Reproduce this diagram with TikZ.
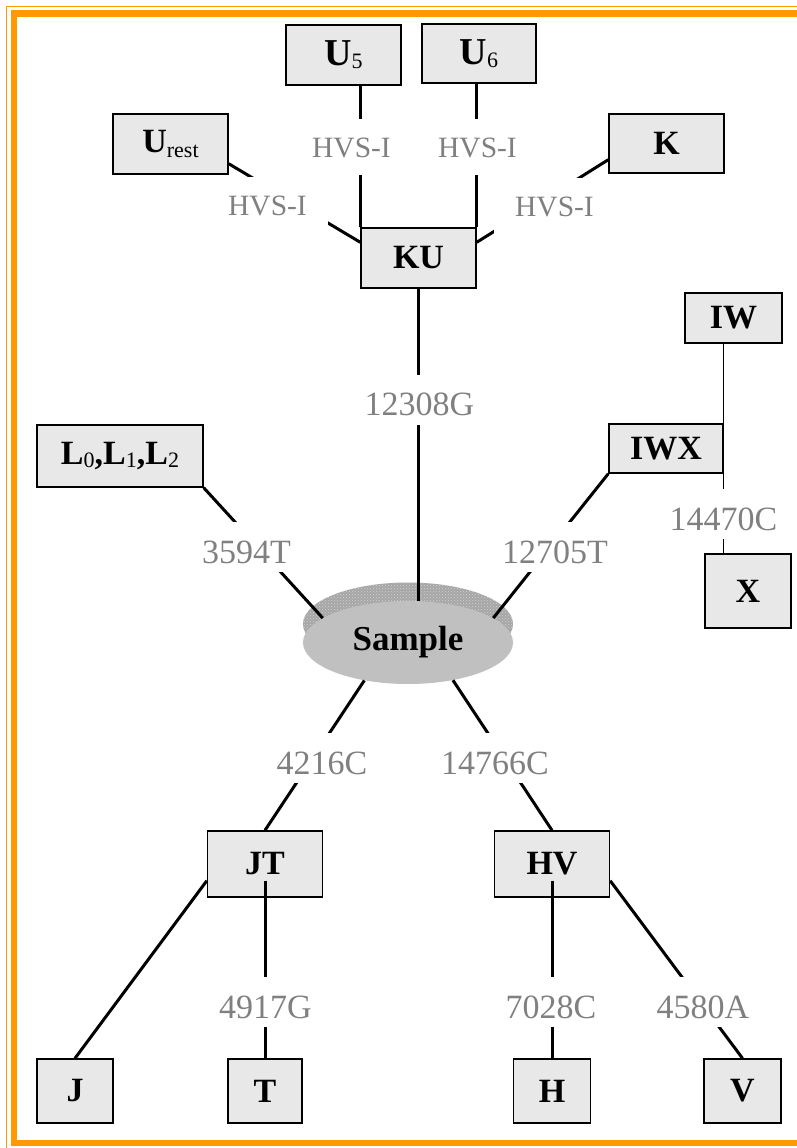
\documentclass[tikz,border=0pt]{standalone}
\usepackage{fontspec}
\setmainfont{Liberation Serif}
\usetikzlibrary{calc,shapes.geometric,patterns}
\definecolor{frameorange}{HTML}{FF9900}
\definecolor{boxfill}{HTML}{E8E8E8}
\definecolor{lblgray}{HTML}{808080}
\definecolor{samplefill}{HTML}{C0C0C0}
\definecolor{shadowfill}{HTML}{A6A6A6}
\definecolor{shadowdots}{HTML}{D4D4D4}
\newcommand{\hsub}[2][3pt]{\raisebox{-#1}{\fontsize{22}{24}\selectfont\mdseries #2}}
\tikzset{
  hap/.style={draw=black, line width=1.4pt, fill=boxfill, inner sep=0pt,
    font=\fontsize{34}{40}\selectfont\bfseries},
  link/.style={line width=3pt},
  thinlink/.style={line width=1.3pt},
  mut/.style={fill=white, text=lblgray, font=\fontsize{34}{40}\selectfont,
    text height=37pt, text depth=5pt, inner ysep=4pt, inner xsep=8pt, anchor=base},
  hvs/.style={fill=white, text=lblgray, font=\fontsize{29.5}{35}\selectfont,
    text height=34pt, text depth=14pt, inner ysep=4pt, inner xsep=21pt, anchor=base},
}
\begin{document}
\begin{tikzpicture}[x=1pt,y=-1pt]
\useasboundingbox (0,0) rectangle (797,1148);
\clip (0,0) rectangle (797,1148);
% frame
\draw[frameorange, line width=1.5pt] (6.5,6.5) rectangle (830,1160);
\draw[frameorange, line width=6.5pt] (14,13.5) rectangle (830,1143);

% sample
\node[ellipse, minimum width=210pt, minimum height=83pt, inner sep=0pt,
      fill=shadowfill, postaction={pattern=crosshatch dots, pattern color=shadowdots}]
      (sampleshadow) at (408,624) {};
\node[ellipse, minimum width=210pt, minimum height=83pt, inner sep=0pt,
      fill=samplefill, font=\fontsize{35}{40}\selectfont\bfseries]
      (sample) at (408,642.5) {Sample};

% haplogroup boxes
\node[hap, minimum width=115pt, minimum height=60pt, font=\fontsize{38}{44}\selectfont\bfseries] (U5) at (343.5,55) {U\hsub{5}};
\node[hap, minimum width=114pt, minimum height=59pt, font=\fontsize{38}{44}\selectfont\bfseries] (U6) at (479,53.5) {U\hsub{6}};
\node[hap, minimum width=115pt, minimum height=60pt] (Urest) at (170.5,144) {U\hsub[5pt]{rest}};
\node[hap, minimum width=115pt, minimum height=59pt] (K) at (666.5,143.5) {K};
\node[hap, minimum width=115pt, minimum height=60pt] (KU) at (418.5,258) {KU};
\node[hap, minimum width=97pt, minimum height=50pt] (IW) at (733.5,318) {IW};
\node[hap, minimum width=114pt, minimum height=49pt] (IWX) at (666,448.5) {IWX};
\node[hap, minimum width=86pt, minimum height=74pt] (X) at (748,591) {X};
\node[hap, minimum width=166pt, minimum height=62pt] (L) at (120,456) {L\hsub{0},L\hsub{1},L\hsub{2}};
\node[hap, minimum width=115pt, minimum height=66pt] (JT) at (265,864) {JT};
\node[hap, minimum width=115pt, minimum height=66pt] (HV) at (552,864) {HV};
\node[hap, minimum width=76pt, minimum height=64pt] (J) at (75,1091) {J};
\node[hap, minimum width=74pt, minimum height=64pt] (T) at (265,1091) {T};
\node[hap, minimum width=77pt, minimum height=64pt] (H) at (552,1091) {H};
\node[hap, minimum width=77pt, minimum height=64pt] (V) at (742.5,1091) {V};

% connectors
\draw[link] ($(Urest.south east)+(0,-11)$) -- ($(KU.north west)+(0,15)$);
\draw[link] (KU.north west) -- (KU.north west |- U5.south);
\draw[link] (KU.north east) -- (KU.north east |- U6.south);
\draw[link] ($(K.south west)+(0,-14)$) -- ($(KU.north east)+(0,15)$);
\draw[link] (KU.south) -- (KU.south |- sample.north);
\draw[link] (L.south east) -- (sample.164);
\draw[link] (IWX.south west) -- (sample.16);
\draw[thinlink] (IW.south -| IWX.east) -- (X.north -| IWX.east);
\draw[link] (sample.-139) -- (JT.north);
\draw[link] (sample.-40) -- (HV.north);
\draw[link] ($(JT.south west)+(0,-17)$) -- (J.north);
\draw[link] ($(JT.south)+(0,-17)$) -- (T.north);
\draw[link] ($(HV.south)+(0,-17)$) -- (H.north);
\draw[link] ($(HV.south east)+(0,-17)$) -- (V.north);

% mutation labels
\node[hvs] (mUrest) at (267.5,215) {HVS-I};
\node[hvs] (mU5) at (351.5,157) {HVS-I};
\node[hvs] (mU6) at (477.5,157) {HVS-I};
\node[hvs] (mK) at (554.5,216) {HVS-I};
\node[mut] (m12308) at (419.5,415.5) {12308G};
\node[mut] (m3594) at (246.5,563) {3594T};
\node[mut] (m12705) at (555,563) {12705T};
\node[mut] (m14470) at (723.5,530) {14470C};
\node[mut] (m4216) at (322,774) {4216C};
\node[mut] (m14766) at (495,774) {14766C};
\node[mut] (m4917) at (265.5,1018) {4917G};
\node[mut] (m7028) at (551,1018) {7028C};
\node[mut] (m4580) at (703,1018) {4580A};
\end{tikzpicture}
\end{document}
